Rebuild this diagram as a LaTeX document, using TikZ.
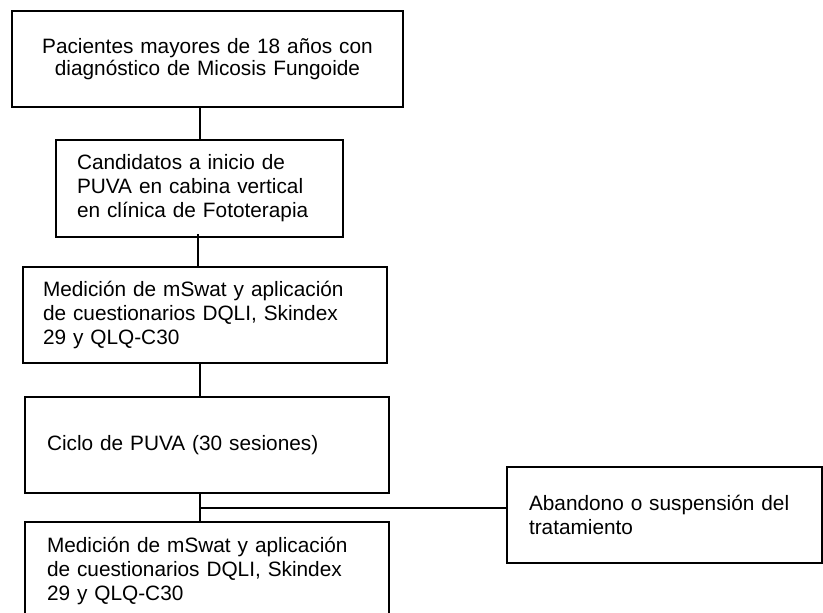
\documentclass[tikz,border=0pt]{standalone}
\usepackage{fontspec}
\setmainfont{Liberation Sans}
\usetikzlibrary{calc}
\tikzset{
  flowbox/.style={draw, line width=2.6pt, inner ysep=0pt, font=\fontsize{20.8pt}{24pt}\selectfont},
  link/.style={line width=2.2pt}
}
\begin{document}
\begin{tikzpicture}[x=1pt,y=-1pt]
\clip (0,0) rectangle (823,613);
\fill[white] (0,0) rectangle (823,613);
\node[flowbox, align=center, inner xsep=10pt, text width=371pt, minimum width=391pt, minimum height=96pt,
  font=\fontsize{20.8pt}{22.4pt}\selectfont] (b1) at (207.5,59)
  {Pacientes mayores de 18 años con\\diagnóstico de Micosis Fungoide};
\node[flowbox, align=left, inner xsep=21pt, text width=245pt, minimum width=287pt, minimum height=97pt] (b2) at (199.5,188.5)
  {Candidatos a inicio de\\PUVA en cabina vertical\\en clínica de Fototerapia};
\node[flowbox, align=left, inner xsep=20pt, text width=324pt, minimum width=364pt, minimum height=96pt] (b3) at (205,315)
  {Medición de mSwat y aplicación\\de cuestionarios DQLI, Skindex\\29 y QLQ-C30};
\node[flowbox, align=left, inner xsep=22pt, text width=320pt, minimum width=364pt, minimum height=96pt] (b4) at (207,445)
  {Ciclo de PUVA (30 sesiones)};
\node[flowbox, align=left, inner xsep=22pt, text width=320pt, minimum width=364pt, minimum height=98pt] (b5) at (207,571)
  {Medición de mSwat y aplicación\\de cuestionarios DQLI, Skindex\\29 y QLQ-C30};
\node[flowbox, align=left, inner xsep=22pt, text width=271pt, minimum width=315pt, minimum height=96pt] (ab) at (664.5,515)
  {Abandono o suspensión del\\tratamiento};
\draw[link] ($(b1.south)+(-7.5,0)$) -- ($(b2.north)+(0.5,0)$);
\draw[link] ($(b2.south)+(-1.5,-4)$) -- ($(b3.north)+(-7,0)$);
\draw[link] ($(b3.south)+(-5,0)$) -- ($(b4.north)+(-7,0)$);
\draw[link] ($(b4.south)+(-7,-2)$) -- ($(b5.north)+(-7,0)$);
\coordinate (j) at (200,508);
\draw[link] (j) -- (ab.west |- j);
\end{tikzpicture}
\end{document}
